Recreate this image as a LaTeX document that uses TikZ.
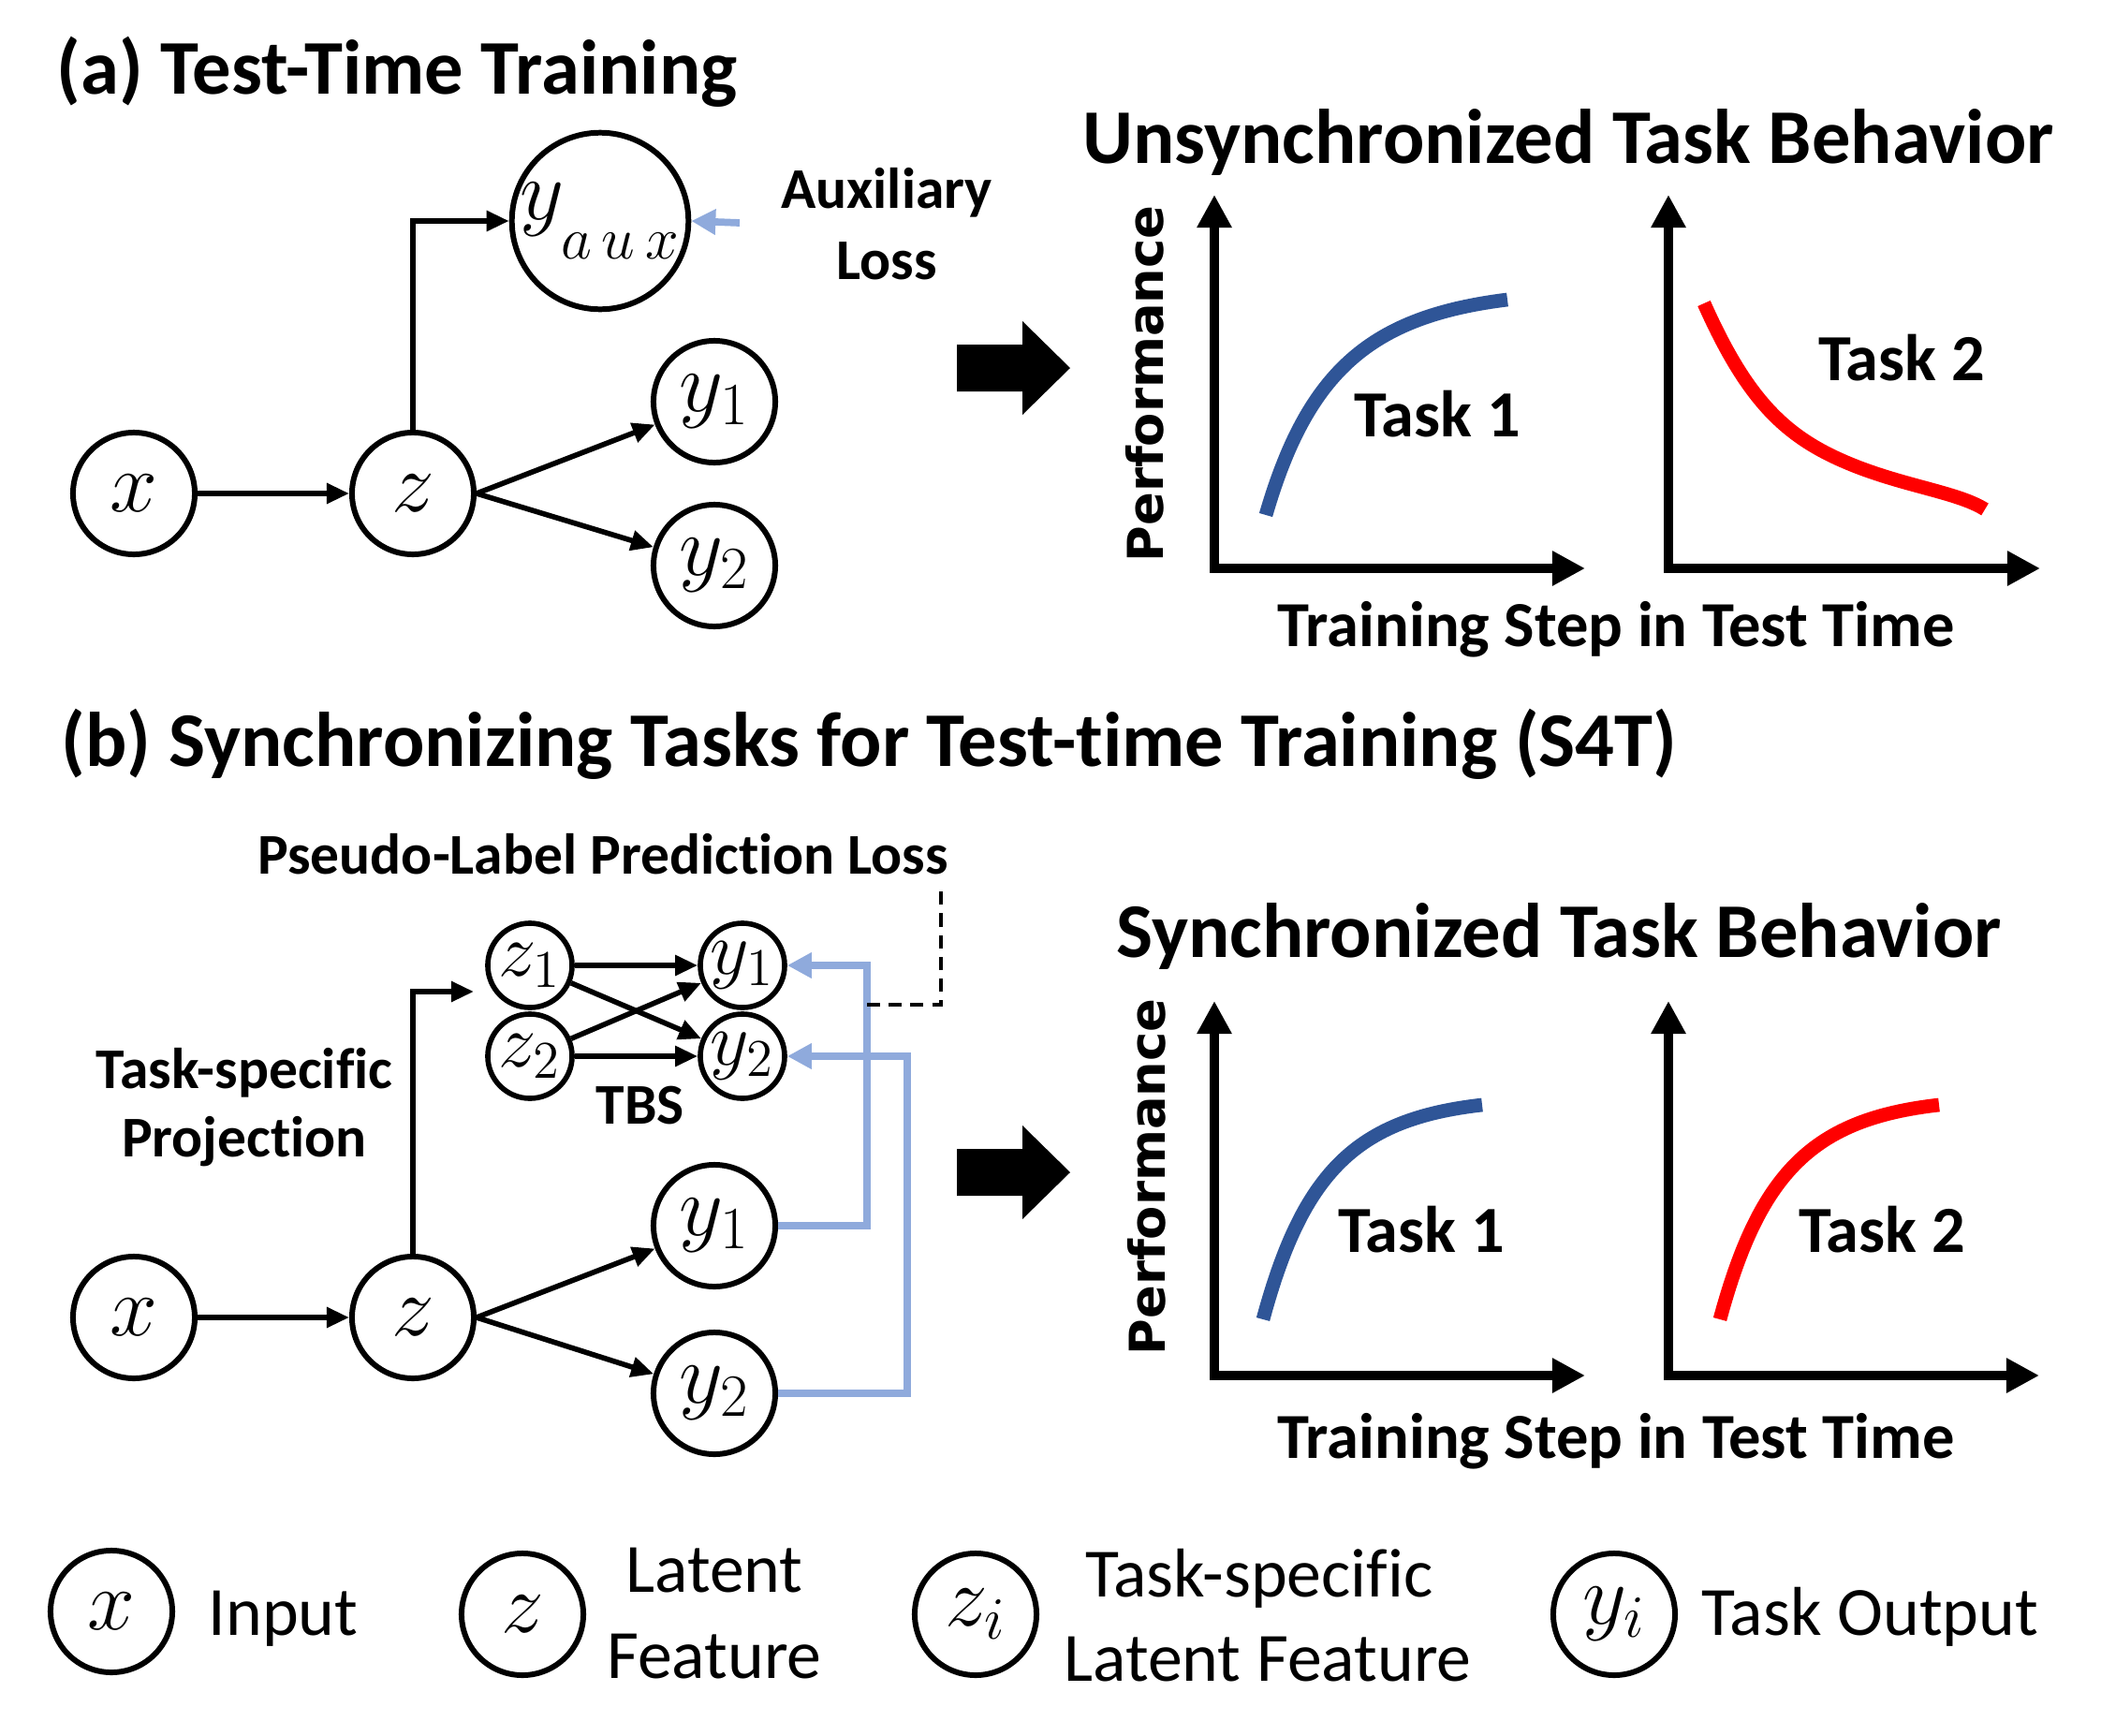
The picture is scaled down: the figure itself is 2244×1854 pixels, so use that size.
\RequirePackage{fix-cm}
\documentclass[tikz,border=0pt]{standalone}
\usepackage[no-math]{fontspec}
\setmainfont{Carlito}[Ligatures={NoCommon}]
\newfontfamily\perffont{DejaVu Sans}
\usetikzlibrary{arrows.meta}
\definecolor{cblue}{HTML}{2F5597}
\definecolor{lblue}{HTML}{8FAADC}
\definecolor{cred}{HTML}{FF0000}
\begin{document}
\begin{tikzpicture}[x=0.01cm,y=-0.01cm,
 nd/.style={circle,draw,line width=1.7pt,minimum size=1.3cm,inner sep=0pt,font=\fontsize{26}{26}\selectfont},
 auxnd/.style={nd,minimum size=1.5cm},
 snd/.style={circle,draw,line width=1.6pt,minimum size=0.9cm,inner sep=0pt,font=\fontsize{23}{23}\selectfont},
 arr/.style={line width=1.6pt,-{Triangle[length=0.24cm,width=0.21cm]}},
 barr/.style={lblue,line width=2.2pt,-{Triangle[length=0.26cm,width=0.26cm]}},
 axisline/.style={line width=2.8pt,{Triangle[length=0.35cm,width=0.35cm]}-{Triangle[length=0.35cm,width=0.35cm]}},
 curveline/.style={line width=4.2pt},
 ttl/.style={font=\fontsize{23.5}{28}\selectfont\bfseries,anchor=base west,inner sep=0pt},
 ctitle/.style={font=\fontsize{23.5}{28}\selectfont\bfseries,anchor=base,inner sep=0pt},
 lbl/.style={font=\fontsize{17.5}{21}\selectfont\bfseries,anchor=base,inner sep=0pt},
 tasklbl/.style={font=\fontsize{20}{24}\selectfont\bfseries,anchor=base,inner sep=0pt},
 xlbl/.style={font=\fontsize{19.5}{24}\selectfont\bfseries,anchor=base,inner sep=0pt},
 ylbl/.style={font=\perffont\fontsize{15}{18}\selectfont\bfseries,rotate=90,inner sep=0pt},
 leg/.style={font=\fontsize{21}{25}\selectfont,anchor=base,inner sep=0pt},
 dashline/.style={line width=1.1pt,dash pattern=on 4pt off 2.6pt}
]
\useasboundingbox (0,0) rectangle (2244,1854);

% ---------------- (a) ----------------
\node[ttl] (ta) at (60,100) {(a) Test-Time Training};

\node[nd] (xa) at (143,527) {$x$};
\node[nd] (za) at (441,527) {$z$};
\node[auxnd] (yaux) at (641,236) {\raisebox{4pt}{$y_{\raisebox{-8pt}{$\scriptstyle a\,u\,x$}}$}};
\node[nd] (y1a) at (763,429) {$y_1$};
\node[nd] (y2a) at (763,604) {$y_2$};

\draw[arr] (xa) -- (za);
\draw[arr] (za.north) |- (yaux);
\draw[arr] (za.east) -- (y1a);
\draw[arr] (za.east) -- (y2a);

\coordinate (auxsrc) at (790,238);
\draw[barr] (auxsrc) -- (yaux.east);
\node[lbl] (auxl) at (947,222) {Auxiliary};
\node[lbl] (lossl) at (947,298) {Loss};

\fill (1022,368) -- (1092,368) -- (1092,343) -- (1143,393) -- (1092,443) -- (1092,418) -- (1022,418) -- cycle;

\node[ctitle] (cta) at (1675,174) {Unsynchronized Task Behavior};
\draw[axisline] (1297,208) -- (1297,607) -- (1693,607);
\draw[axisline] (1782,208) -- (1782,607) -- (2179,607);
\node[ylbl] (pa) at (1223,410) {Performance};
\node[xlbl] (sa) at (1726,690) {Training Step in Test Time};
\draw[curveline,cblue] (1352,550) .. controls (1397,395) and (1465,338) .. (1610,320);
\draw[curveline,cred] (1820,324) .. controls (1865,425) and (1905,465) .. (1970,493) .. controls (2030,519) and (2090,525) .. (2120,544);
\node[tasklbl] (t1a) at (1535,466) {Task 1};
\node[tasklbl] (t2a) at (2031,406) {Task 2};

% ---------------- (b) ----------------
\node[ttl] (tb) at (65,818) {(b) Synchronizing Tasks for Test-time Training (S4T)};
\node[lbl] (pl) at (644,933) {Pseudo-Label Prediction Loss};

\node[snd] (z1) at (566,1031) {$z_1$};
\node[snd] (z2) at (566,1128) {$z_2$};
\node[snd] (y1s) at (793,1031) {$y_1$};
\node[snd] (y2s) at (793,1128) {$y_2$};
\draw[arr] (z1) -- (y1s);
\draw[arr] (z2) -- (y2s);
\draw[arr] (z1) -- (y2s);
\draw[arr] (z2) -- (y1s);
\node[lbl] (tbs) at (684,1200) {TBS};

\node[lbl] (tsp) at (261,1162) {Task-specific};
\node[lbl] (proj) at (261,1235) {Projection};

\node[nd] (xb) at (143,1407) {$x$};
\node[nd] (zb) at (441,1407) {$z$};
\node[nd] (y1b) at (763,1309) {$y_1$};
\node[nd] (y2b) at (763,1488) {$y_2$};
\draw[arr] (xb) -- (zb);
\draw[arr] (zb.east) -- (y1b);
\draw[arr] (zb.east) -- (y2b);
\coordinate (projtip) at (506,1059);
\draw[arr] (zb.north) |- (projtip);

\coordinate (b1) at (926,1031);
\coordinate (b2) at (969,1128);
\draw[barr] (y1b.east) -| (b1) -- (y1s.east);
\draw[barr] (y2b.east) -| (b2) -- (y2s.east);

\coordinate (d1) at (926,1073);
\coordinate (d2) at (1005,1073);
\coordinate (d3) at (1005,947);
\draw[dashline] (d1) -- (d2) -- (d3);

\fill (1022,1227) -- (1092,1227) -- (1092,1202) -- (1143,1252) -- (1092,1302) -- (1092,1277) -- (1022,1277) -- cycle;

\node[ctitle] (ctb) at (1665,1022) {Synchronized Task Behavior};
\draw[axisline] (1297,1069) -- (1297,1469) -- (1693,1469);
\draw[axisline] (1782,1069) -- (1782,1469) -- (2178,1469);
\node[ylbl] (pb) at (1225,1257) {Performance};
\node[xlbl] (sb) at (1726,1557) {Training Step in Test Time};
\draw[curveline,cblue] (1349,1409) .. controls (1392,1250) and (1450,1195) .. (1583,1180);
\draw[curveline,cred] (1837,1409) .. controls (1880,1250) and (1938,1195) .. (2071,1180);
\node[tasklbl] (t1b) at (1518,1337) {Task 1};
\node[tasklbl] (t2b) at (2010,1337) {Task 2};

% ---------------- legend ----------------
\node[nd] (lx) at (119,1721) {$x$};
\node[leg,anchor=base west] (lxt) at (222,1746) {Input};
\node[nd] (lz) at (558,1724) {$z$};
\node[leg] (lzt1) at (763,1700) {Latent};
\node[leg] (lzt2) at (763,1792) {Feature};
\node[nd] (lzi) at (1042,1724) {$z_i$};
\node[leg] (lzit1) at (1345,1705) {Task-specific};
\node[leg] (lzit2) at (1354,1795) {Latent Feature};
\node[nd] (lyi) at (1724,1724) {$y_i$};
\node[leg,anchor=base west] (lyit) at (1817,1746) {Task Output};
\end{tikzpicture}
\end{document}
